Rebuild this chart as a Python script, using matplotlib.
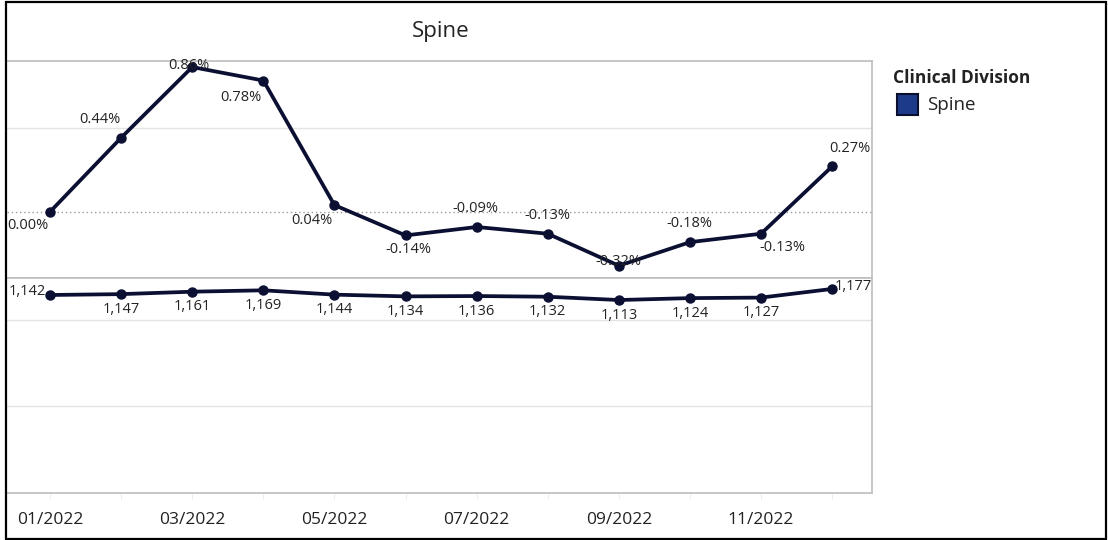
import numpy as np
import matplotlib
matplotlib.use('Agg')
import matplotlib.pyplot as plt
from matplotlib.patches import Rectangle

plt.rcParams['font.family'] = ['Open Sans', 'DejaVu Sans']

# data
months = ['01/2022', '02/2022', '03/2022', '04/2022', '05/2022', '06/2022',
          '07/2022', '08/2022', '09/2022', '10/2022', '11/2022', '12/2022']
pct_change = [0.00, 0.44, 0.86, 0.78, 0.04, -0.14, -0.09, -0.13, -0.32, -0.18, -0.13, 0.27]
counts = [1142, 1147, 1161, 1169, 1144, 1134, 1136, 1132, 1113, 1124, 1127, 1177]
division = 'Spine'

# label offsets (pixels) for each point
pct_off = [(-22, -14), (-21, 18), (-3, 2), (-22, -17), (-23, -15), (3, -14),
           (-1, 18), (0, 18), (0, 4), (-1, 19), (21, -14), (18, 18)]
cnt_off = [(-23, 3)] + [(0, -15)] * 10 + [(21, 2)]

W, H = 1108, 540
line_col = '#0b1033'
grid_col = '#e4e4e4'
pane_col = '#bdbdbd'
txt_col = '#222222'

fig = plt.figure(figsize=(W / 100, H / 100), dpi=100)

def px_axes(x0, y0, x1, y1):
    return fig.add_axes([x0 / W, 1 - y1 / H, (x1 - x0) / W, (y1 - y0) / H])

x = np.arange(len(months))

# top pane: % change
ax1 = px_axes(7, 61, 872, 278)
ax1.plot(x, pct_change, color=line_col, lw=2.7, marker='o', ms=6.5, zorder=3)
ax1.axhline(0, color='#9a9a9a', lw=1, ls=(0, (1, 2)), zorder=1)
ax1.axhline(0.5, color=grid_col, lw=1, zorder=1)
ax1.set_ylim(-0.393, 0.896)
for i, v in enumerate(pct_change):
    ax1.annotate(f'{v:.2f}%', (x[i], v), xytext=pct_off[i], textcoords='offset pixels',
                 ha='center', va='center', fontsize=10.5, color=txt_col, zorder=4)

# bottom pane: counts
ax2 = px_axes(7, 278, 872, 493)
ax2.plot(x, counts, color=line_col, lw=2.7, marker='o', ms=6.5, zorder=3)
for g in (500, 1000):
    ax2.axhline(g, color=grid_col, lw=1, zorder=1)
ax2.set_ylim(0, 1240)
for i, v in enumerate(counts):
    ax2.annotate(f'{v:,}', (x[i], v), xytext=cnt_off[i], textcoords='offset pixels',
                 ha='center', va='center', fontsize=10.5, color=txt_col, zorder=4)

for ax in (ax1, ax2):
    ax.set_xlim(-0.605, 11.56)
    ax.set_yticks([])
    ax.set_xticks(x)
    for s in ('top', 'bottom', 'right'):
        ax.spines[s].set_color(pane_col)
        ax.spines[s].set_linewidth(1.2)
    ax.spines['left'].set_visible(False)

ax1.tick_params(axis='x', length=0, labelbottom=False)
ax2.set_xticklabels([m if i % 2 == 0 else '' for i, m in enumerate(months)])
ax2.tick_params(axis='x', length=4, color='#ededed', pad=10, labelsize=12.5,
                labelcolor=txt_col)

# title
fig.text(441 / W, 1 - 32 / H, division, ha='center', va='center', fontsize=16, color=txt_col)

# legend
fig.text(893 / W, 1 - 78 / H, 'Clinical Division', ha='left', va='center',
         fontsize=12.5, fontweight='bold', color=txt_col)
fig.patches.append(Rectangle((897 / W, 1 - 115 / H), 21 / W, 21 / H, transform=fig.transFigure,
                             facecolor='#1d3a8a', edgecolor='#0a0f2e', lw=1.5))
fig.text(927 / W, 1 - 105 / H, division, ha='left', va='center', fontsize=13.5, color=txt_col)

# outer frame
fig.patches.append(Rectangle((6 / W, 1 / H), (W - 8) / W, (H - 3) / H, transform=fig.transFigure,
                             fill=False, edgecolor='black', lw=1.6))

fig.savefig('out.png', dpi=100)
